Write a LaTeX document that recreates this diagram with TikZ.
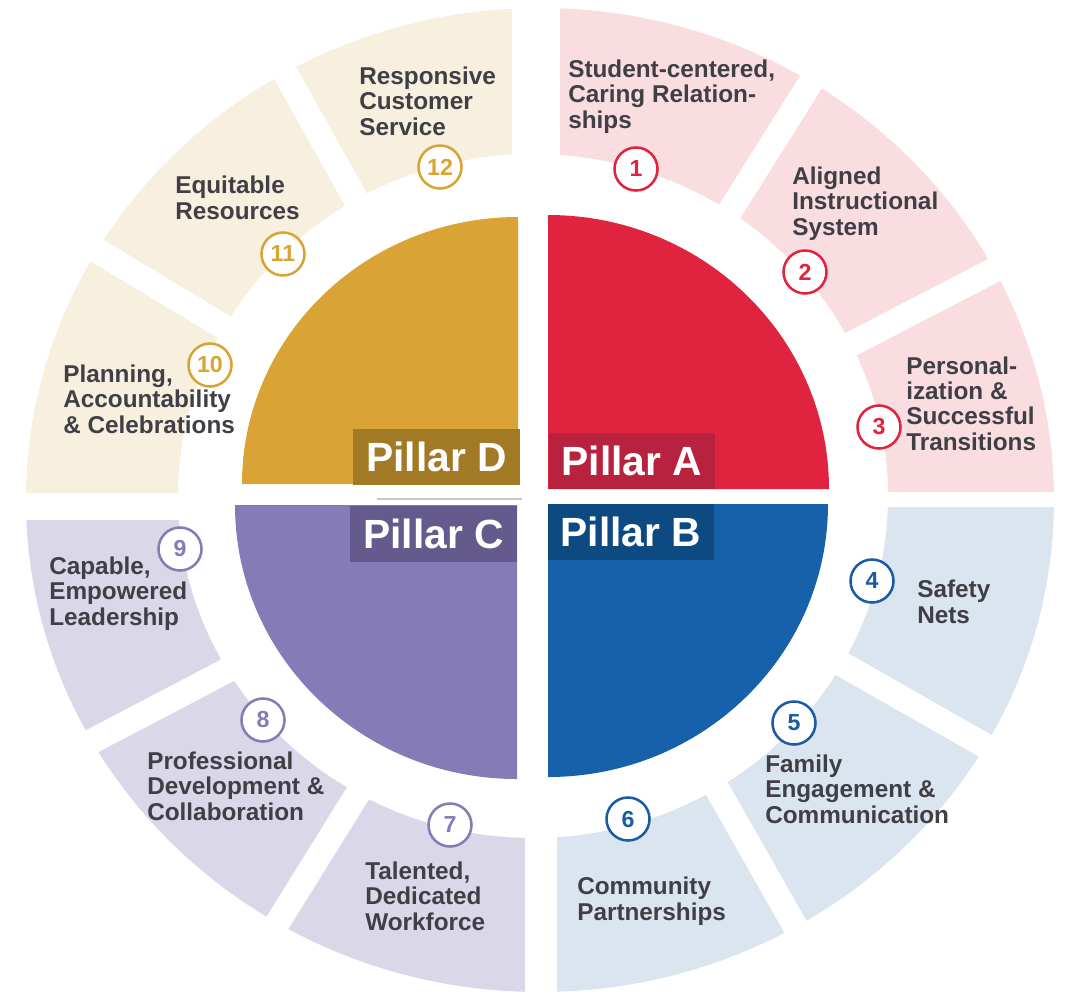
\documentclass[tikz,border=0pt]{standalone}
\usepackage{fontspec}
\setmainfont{Liberation Sans}
\usepackage{xcolor}

\definecolor{ringA}{HTML}{F9DDE1}
\definecolor{ringB}{HTML}{DBE5EF}
\definecolor{ringC}{HTML}{DAD7E8}
\definecolor{ringD}{HTML}{F8F0DF}
\definecolor{pillarA}{HTML}{E0233F}
\definecolor{pillarB}{HTML}{1661A9}
\definecolor{pillarC}{HTML}{857BB6}
\definecolor{pillarD}{HTML}{D9A336}
\definecolor{boxA}{HTML}{B8223F}
\definecolor{boxB}{HTML}{0E4A82}
\definecolor{boxC}{HTML}{645A8C}
\definecolor{boxD}{HTML}{A27A25}
\definecolor{numB}{HTML}{1A5CA3}
\definecolor{txtgray}{HTML}{3F3F45}

\begin{document}
\begin{tikzpicture}[x=0.025cm, y=-0.025cm,
    lbl/.style={anchor=base west, align=left, inner sep=0pt, text=txtgray,
        font=\bfseries\fontsize{17.3}{17.8}\selectfont},
    num/.style={circle, draw=#1, text=#1, fill=white, line width=1.8pt,
        minimum size=1.075cm, inner sep=0pt, font=\bfseries\fontsize{16.5}{16.5}\selectfont},
    pillarbox/.style={fill=#1, text=white, minimum width=4.15cm, minimum height=1.4cm,
        inner sep=0pt, font=\bfseries\fontsize{29}{29}\selectfont},
    gap/.style={white, line width=0.625cm}]
    \useasboundingbox (0,0) rectangle (1066,995);

%____________________________________________________________________________________________________
    % outer ring, one colour per pillar
    \begin{scope}
        \clip (533,497) rectangle (1066,0);
        \fill[ringA, even odd rule] (540,500) ellipse [x radius=514, y radius=492] (533,496) ellipse [x radius=355, y radius=342];
    \end{scope}
    \begin{scope}
        \clip (533,497) rectangle (1066,995);
        \fill[ringB, even odd rule] (540,500) ellipse [x radius=514, y radius=492] (533,496) ellipse [x radius=355, y radius=342];
    \end{scope}
    \begin{scope}
        \clip (533,497) rectangle (0,995);
        \fill[ringC, even odd rule] (540,500) ellipse [x radius=514, y radius=492] (533,496) ellipse [x radius=355, y radius=342];
    \end{scope}
    \begin{scope}
        \clip (533,497) rectangle (0,0);
        \fill[ringD, even odd rule] (540,500) ellipse [x radius=514, y radius=492] (533,496) ellipse [x radius=355, y radius=342];
    \end{scope}

    % gaps between the segments
    \draw[gap, line width=1.2cm] (536,-10) -- (536,300);
    \draw[gap, line width=0.375cm] (780,499.5) -- (1080,499.5);
    \draw[gap, line width=0.675cm] (-10,506.5) -- (300,506.5);
    \draw[gap, line width=0.8cm] (541,700) -- (541,1010);
    \draw[gap] (674,300) -- (850,20);
    \draw[gap] (780,381) -- (1080,225.4);
    \draw[gap] (760,617.4) -- (1080,799.8);
    \draw[gap] (678,720) -- (837,1000);
    \draw[gap] (403.6,720) -- (229.4,1000);
    \draw[gap] (300,632.2) -- (-10,794.7);
    \draw[gap] (300,372.7) -- (-10,186.1);
    \draw[gap] (412.2,300) -- (238.6,-10);

%____________________________________________________________________________________________________
    % the four pillars
    \fill[pillarA] (548,489) -- ++(281,0) arc[start angle=0, end angle=-90, x radius=281, y radius=274] -- cycle;
    \fill[pillarB] (548,504) -- ++(280,0) arc[start angle=0, end angle=90, x radius=280, y radius=273] -- cycle;
    \fill[pillarC] (517,505) -- ++(-282,0) arc[start angle=180, end angle=90, x radius=282, y radius=274] -- cycle;
    \fill[pillarD] (518,484) -- ++(-276,0) arc[start angle=180, end angle=270, x radius=276, y radius=267] -- cycle;
    \draw[black!22, line width=1.1pt] (377,499) -- (522,499);

    \node[pillarbox=boxD] (pillarD) at (436.5,456.5) {Pillar D};
    \node[pillarbox=boxA] (pillarA) at (632,461) {Pillar A};
    \node[pillarbox=boxC] (pillarC) at (433.5,533.5) {Pillar C};
    \node[pillarbox=boxB] (pillarB) at (631,532) {Pillar B};

%____________________________________________________________________________________________________
    % numbers
    \node[num=pillarA] (n1) at (636,169) {1};
    \node[num=pillarA] (n2) at (805,272) {2};
    \node[num=pillarA] (n3) at (879,427) {3};
    \node[num=numB] (n4) at (872,581) {4};
    \node[num=numB] (n5) at (794,723) {5};
    \node[num=numB] (n6) at (628,819) {6};
    \node[num=pillarC] (n7) at (450,825) {7};
    \node[num=pillarC] (n8) at (263,720) {8};
    \node[num=pillarC] (n9) at (180,549) {9};
    \node[num=pillarD] (n10) at (210,365) {10};
    \node[num=pillarD] (n11) at (283,254) {11};
    \node[num=pillarD] (n12) at (440,167) {12};

    % labels (anchored at the baseline of the last line)
    \node[lbl] (l1) at (568,128) {Student-centered,\\Caring Relation-\\ships};
    \node[lbl] (l2) at (792,235) {Aligned\\Instructional\\System};
    \node[lbl] (l3) at (906,450) {Personal-\\ization \&\\Successful\\Transitions};
    \node[lbl] (l4) at (917,623) {Safety\\Nets};
    \node[lbl] (l5) at (765,823) {Family\\Engagement \&\\Communication};
    \node[lbl] (l6) at (577,920) {Community\\Partnerships};
    \node[lbl] (l7) at (365,930) {Talented,\\Dedicated\\Workforce};
    \node[lbl] (l8) at (147,820) {Professional\\Development \&\\Collaboration};
    \node[lbl] (l9) at (49,625) {Capable,\\Empowered\\Leadership};
    \node[lbl] (l10) at (63,433) {Planning,\\Accountability\\\& Celebrations};
    \node[lbl] (l11) at (175,219) {Equitable\\Resources};
    \node[lbl] (l12) at (359,135) {Responsive\\Customer\\Service};
\end{tikzpicture}
\end{document}
